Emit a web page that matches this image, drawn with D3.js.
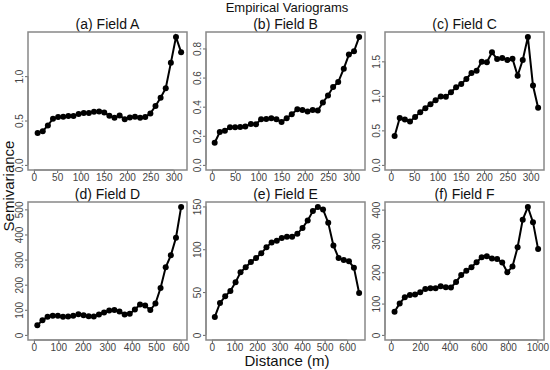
<!DOCTYPE html>
<html>
<head>
<meta charset="utf-8">
<script src="https://cdn.jsdelivr.net/npm/d3@7"></script>
<style>
  body { margin: 0; background: #fff; }
  svg { font-family: "Liberation Sans", Arial, sans-serif; }
</style>
</head>
<body>
<svg id="chart" width="550" height="370"></svg>
<script>
// lag distances (m) and semivariance per field
const fieldAx = [8, 19, 30, 41, 52, 63, 74, 85, 96, 107, 118, 129, 140, 151, 162, 173, 184, 195, 206, 217, 228, 239, 250, 261, 272, 283, 294, 305, 316]
const fieldAy = [0.36, 0.38, 0.445, 0.52, 0.54, 0.543, 0.55, 0.55, 0.573, 0.584, 0.584, 0.6, 0.603, 0.59, 0.554, 0.53, 0.558, 0.513, 0.535, 0.543, 0.53, 0.54, 0.58, 0.663, 0.757, 0.865, 1.15, 1.44, 1.27]

const fieldBx = [6, 17, 28, 39, 50, 61, 72, 84, 95, 106, 117, 128, 139, 150, 161, 172, 184, 195, 206, 217, 228, 239, 250, 261, 272, 284, 295, 306, 317]
const fieldBy = [0.152, 0.226, 0.235, 0.258, 0.258, 0.26, 0.263, 0.281, 0.279, 0.313, 0.316, 0.32, 0.313, 0.295, 0.32, 0.348, 0.382, 0.378, 0.366, 0.378, 0.373, 0.429, 0.477, 0.535, 0.569, 0.661, 0.758, 0.781, 0.878]

const fieldCx = [8, 19, 30, 41, 52, 63, 74, 85, 96, 107, 118, 129, 140, 151, 162, 173, 184, 195, 206, 217, 228, 239, 250, 261, 272, 283, 294, 305, 316]
const fieldCy = [0.418, 0.678, 0.659, 0.63, 0.692, 0.764, 0.822, 0.88, 0.938, 0.99, 0.986, 1.053, 1.125, 1.173, 1.245, 1.332, 1.365, 1.495, 1.486, 1.63, 1.534, 1.548, 1.519, 1.538, 1.293, 1.519, 1.851, 1.149, 0.827]

const fieldDx = [14, 35, 56, 77, 98, 119, 140, 161, 182, 203, 224, 245, 266, 287, 308, 329, 350, 371, 392, 413, 434, 455, 476, 497, 518, 539, 560, 581, 602]
const fieldDy = [38, 58, 72, 76, 76, 72, 73, 76, 82, 78, 74, 73, 81, 89, 97, 99, 93, 81, 84, 101, 121, 117, 99, 125, 187, 269, 317, 387, 509]

const fieldEx = [13, 36, 59, 82, 105, 127, 150, 173, 196, 219, 242, 265, 288, 310, 333, 356, 379, 402, 425, 448, 470, 493, 516, 539, 562, 585, 608, 630, 653]
const fieldEy = [21, 37.3, 45, 51.3, 61.4, 73, 79, 85, 89.8, 95.2, 102.2, 108, 110, 113, 114.6, 114.6, 118, 124.8, 133.7, 144.6, 149.2, 146.5, 131, 104.5, 89.8, 87.4, 85.9, 78.5, 49]

const fieldFx = [25, 60, 95, 130, 165, 200, 235, 270, 305, 340, 375, 410, 445, 480, 515, 550, 585, 620, 655, 690, 725, 760, 795, 830, 865, 900, 935, 970, 1005]
const fieldFy = [74, 100.5, 120, 127, 129, 136, 146.5, 149, 149, 155, 152, 151, 169, 191, 205, 216, 232, 248, 251, 244, 242, 231, 200, 218, 280, 368, 408, 360, 274]

const panelTitles = ['(a) Field A', '(b) Field B', '(c) Field C', '(d) Field D', '(e) Field E', '(f) Field F']
const xTicks = [
    [0, 50, 100, 150, 200, 250, 300],
    [0, 50, 100, 150, 200, 250, 300],
    [0, 50, 100, 150, 200, 250, 300],
    [0, 100, 200, 300, 400, 500, 600],
    [0, 100, 200, 300, 400, 500, 600],
    [0, 200, 400, 600, 800, 1000]
]
const yTicks = [
    [0, 0.5, 1.0],
    [0, 0.2, 0.4, 0.6, 0.8],
    [0, 0.5, 1.0, 1.5],
    [0, 100, 200, 300, 400, 500],
    [0, 50, 100, 150],
    [0, 100, 200, 300, 400]
]
const yFormats = ['.1f', '.1f', '.1f', 'd', 'd', 'd']

const xs = [fieldAx, fieldBx, fieldCx, fieldDx, fieldEx, fieldFx]
const ys = [fieldAy, fieldBy, fieldCy, fieldDy, fieldEy, fieldFy]

const svg = d3.select('#chart')
const colLeft = [28, 206, 385]
const rowTop = [32, 202]
const pw = 159
const ph = 138
const fontFam = '"Liberation Sans", Arial, sans-serif'

// R style limits: from 0 to max, padded 4% each side
const pad = (m) => [-0.04 * m, 1.04 * m]

svg.append('text')
    .attr('x', 287)
    .attr('y', 12)
    .attr('text-anchor', 'middle')
    .attr('font-size', 13)
    .attr('fill', '#111')
    .text('Empirical Variograms')

for (let i = 0; i < 6; i++) {
    const left = colLeft[i % 3]
    const top = rowTop[Math.floor(i / 3)]
    const data = xs[i].map((d, j) => ({ x: d, y: ys[i][j] }))

    const x = d3.scaleLinear()
        .domain(pad(d3.max(xs[i])))
        .range([left, left + pw])
    const y = d3.scaleLinear()
        .domain(pad(d3.max(ys[i])))
        .range([top + ph, top])

    // panel title
    svg.append('text')
        .attr('x', left + pw / 2)
        .attr('y', top - 3)
        .attr('text-anchor', 'middle')
        .attr('font-size', 14)
        .attr('fill', '#111')
        .text(panelTitles[i])

    // bottom axis
    const gx = svg.append('g')
        .attr('transform', `translate(0,${top + ph})`)
        .call(d3.axisBottom(x).tickValues(xTicks[i]).tickFormat(d3.format('d')).tickSize(3).tickSizeOuter(0).tickPadding(1))
    gx.select('.domain')
        .attr('stroke', '#666')
        .attr('d', `M${x(xTicks[i][0])},0H${x(xTicks[i][xTicks[i].length - 1])}`)
    gx.selectAll('.tick line').attr('stroke', '#666')
    gx.selectAll('.tick text')
        .attr('font-size', 10)
        .attr('fill', '#444')
        .attr('font-family', fontFam)

    // left axis, labels rotated like R
    const gy = svg.append('g')
        .attr('transform', `translate(${left},0)`)
        .call(d3.axisLeft(y).tickValues(yTicks[i]).tickFormat(d3.format(yFormats[i])).tickSize(3).tickSizeOuter(0))
    gy.select('.domain')
        .attr('stroke', '#666')
        .attr('d', `M0,${y(yTicks[i][0])}V${y(yTicks[i][yTicks[i].length - 1])}`)
    gy.selectAll('.tick line').attr('stroke', '#666')
    gy.selectAll('.tick text')
        .attr('font-size', 10)
        .attr('fill', '#444')
        .attr('font-family', fontFam)
        .attr('x', null)
        .attr('dy', null)
        .attr('text-anchor', 'middle')
        .attr('dominant-baseline', 'central')
        .attr('transform', 'translate(-9,0) rotate(-90)')

    // panel box
    svg.append('rect')
        .attr('x', left)
        .attr('y', top)
        .attr('width', pw)
        .attr('height', ph)
        .attr('fill', 'none')
        .attr('stroke', '#888')
        .attr('stroke-width', 1.5)

    svg.append('path')
        .datum(data)
        .attr('fill', 'none')
        .attr('stroke', '#000')
        .attr('stroke-width', 2)
        .attr('d', d3.line().x(d => x(d.x)).y(d => y(d.y)))

    svg.append('g')
        .selectAll('circle')
        .data(data)
        .join('circle')
        .attr('cx', d => x(d.x))
        .attr('cy', d => y(d.y))
        .attr('r', 3)
        .attr('fill', '#000')
}

svg.append('text')
    .attr('transform', 'translate(8,186) rotate(-90)')
    .attr('text-anchor', 'middle')
    .attr('dominant-baseline', 'central')
    .attr('font-size', 15)
    .attr('fill', '#111')
    .text('Semivariance')

svg.append('text')
    .attr('x', 287)
    .attr('y', 366)
    .attr('text-anchor', 'middle')
    .attr('font-size', 15)
    .attr('fill', '#111')
    .text('Distance (m)')
</script>
</body>
</html>
